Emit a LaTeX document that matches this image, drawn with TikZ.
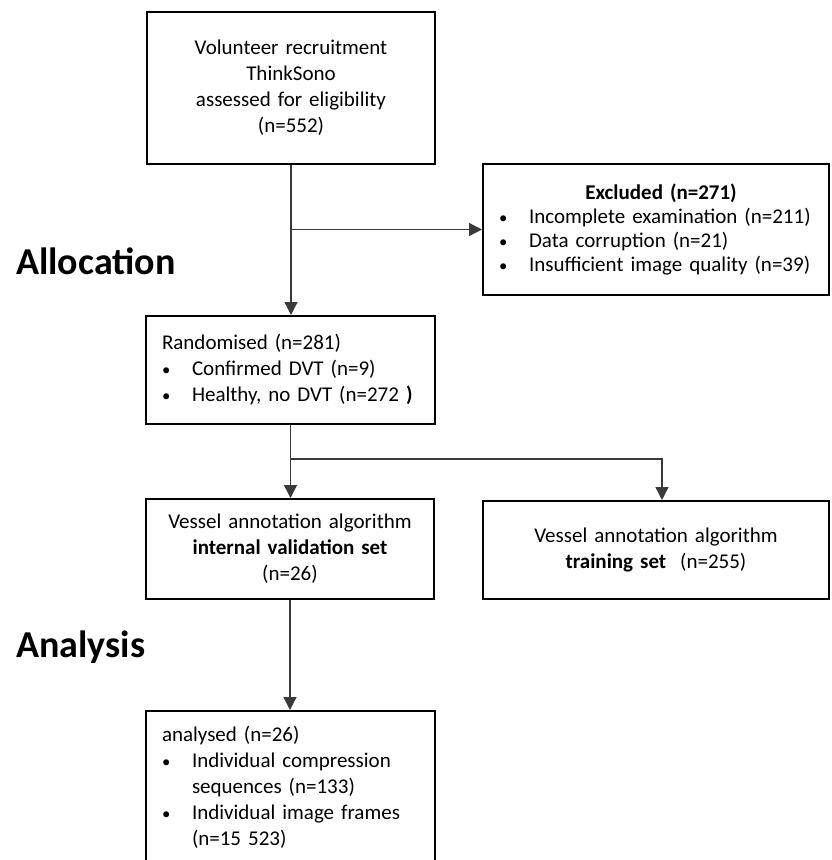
\documentclass[tikz,border=0pt]{standalone}
\usepackage{fontspec}
\setmainfont{Carlito}
\usetikzlibrary{arrows.meta}
\definecolor{conn}{HTML}{3A3A3A}
\tikzset{
  box/.style={draw=black, line width=2pt, rectangle, inner ysep=0pt, inner xsep=16pt,
    font=\fontsize{21}{26}\selectfont},
  conarrow/.style={draw=conn, line width=1.3pt, -{Triangle[length=13pt,width=13pt]}},
  phase/.style={font=\fontsize{38}{46}\selectfont\bfseries, anchor=base west, inner sep=0pt}
}
\newcommand{\bul}{\makebox[30pt][l]{\scalebox{0.8}{•}}}
\newcommand{\ind}{\hspace*{30pt}}
\begin{document}
\begin{tikzpicture}[x=1pt,y=-1pt]
\useasboundingbox (0,0) rectangle (831,860);

\node[box, minimum width=288pt, minimum height=152pt, text width=270pt, inner xsep=9pt, align=center] (top) at (291,88)
  {Volunteer recruitment\\ThinkSono\\assessed for eligibility\\(n=552)};

\node[box, minimum width=346pt, minimum height=131pt, inner xsep=16pt, text width=314pt, align=left] (excl) at (656,229.5)
  {\makebox[\linewidth]{\hspace*{10pt}\bfseries Excluded (n=271)}\\[-2pt]
   \bul Incomplete examination (n=211)\\[-2pt]
   \bul Data corruption (n=21)\\[-2pt]
   \bul Insufficient image quality (n=39)};

\node[box, minimum width=289pt, minimum height=108pt, text width=257pt, align=left] (rand) at (290.5,370)
  {Randomised (n=281)\\
   \bul Confirmed DVT (n=9)\\
   \bul Healthy, no DVT (n=272 {\bfseries)}};

\node[box, minimum width=288pt, minimum height=100pt, text width=270pt, inner xsep=9pt, align=center] (val) at (290,549)
  {Vessel annotation algorithm\\\textbf{internal validation set}\\(n=26)};

\node[box, minimum width=346pt, minimum height=98pt, text width=314pt, align=center] (train) at (656,550)
  {Vessel annotation algorithm\\\textbf{training set}\ \ (n=255)};

\node[box, minimum width=289pt, minimum height=153pt, text width=257pt, align=left] (anal) at (290.5,787.5)
  {analysed (n=26)\\
   \bul Individual compression\\
   \ind sequences (n=133)\\
   \bul Individual image frames\\
   \ind (n=15 523)};

\node[phase] (alloc) at (16,274) {Allocation};
\node[phase] (analysis) at (16,657) {Analysis};

\coordinate (split) at (290,459);
\coordinate (trainin) at ([xshift=6pt]train.north);

\draw[conarrow] (top.south) -- (top.south |- rand.north);
\draw[conarrow] (top.south |- excl.west) -- (excl.west);
\draw[conarrow] (rand.south) -- (rand.south |- val.north);
\draw[conarrow] (split) -| (trainin);
\draw[conarrow] (val.south) -- (val.south |- anal.north);
\end{tikzpicture}
\end{document}
